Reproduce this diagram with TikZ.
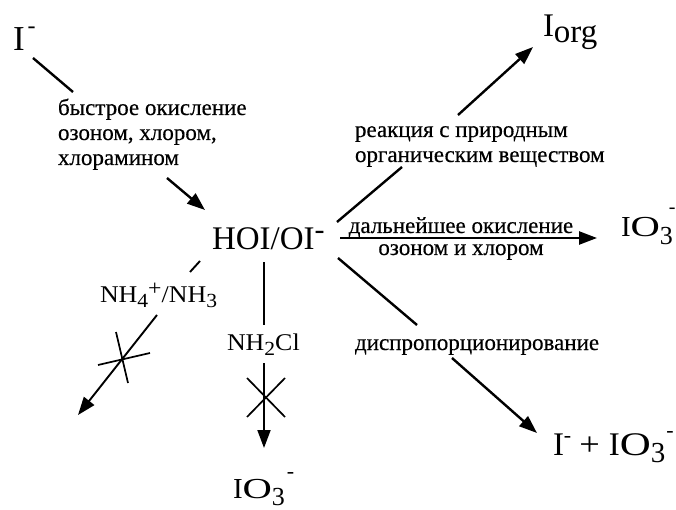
\documentclass[tikz,border=0pt]{standalone}
\usepackage{fontspec}
\setmainfont{Liberation Serif}
\newfontfamily\lblfont{Liberation Serif}[FakeBold=0.4]
\usetikzlibrary{arrows.meta}
% raised charge sign: #1 size, #2 raise
\newcommand\chmin[2]{\raisebox{#2}{\fontsize{#1}{#1}\selectfont -}}
% lowered index: #1 size, #2 drop, #3 text
\newcommand\chidx[3]{\raisebox{-#2}{\fontsize{#1}{#1}\selectfont #3}}
\newcommand\chsup[3]{\raisebox{#2}{\fontsize{#1}{#1}\selectfont #3}}
% wide letter O used in the iodate formulas
\newcommand\wideO{\scalebox{1.4}[1]{O}}
\begin{document}
\begin{tikzpicture}[x=1pt,y=-1pt,
  chem/.style={anchor=base west,inner sep=0pt,outer sep=0pt},
  lbl/.style={inner sep=0pt,outer sep=0pt},
  link/.style={line width=2.4pt},
  thin link/.style={line width=1.9pt},
  arr/.style={link,-{Triangle[length=18pt,width=13pt]}},
  thin arr/.style={thin link,-{Triangle[length=18pt,width=13pt]}},
  crossbar/.style={line width=1.7pt}]
\useasboundingbox (0,0) rectangle (676,510);

% species
\node[chem,font=\fontsize{35}{35}\selectfont] (iod) at (13,51) {I\kern3pt\chmin{24}{17.5pt}};
\node[chem,font=\fontsize{33}{33}\selectfont] (hoi) at (212,250) {HOI/OI\chmin{30}{10pt}};
\node[chem,font=\fontsize{33}{33}\selectfont] (iorg) at (543,37) {I\raisebox{-6pt}{org}};
\node[chem,font=\fontsize{29}{29}\selectfont] (io3r) at (621,237) {I\wideO\chidx{26}{7pt}{3}\kern-4pt\chmin{20}{24pt}};
\node[chem,font=\fontsize{33}{33}\selectfont] (mix) at (553,455)
  {I\chmin{22}{13pt}\kern8pt\scalebox{1.1}[1]{+}\kern9pt I\scalebox{1.3}[1]{O}\chidx{29}{7pt}{3}\kern1pt\chmin{22}{18pt}};
\node[chem,font=\fontsize{29}{29}\selectfont] (io3b) at (233,498) {I\wideO\chidx{26}{7pt}{3}\kern2pt\chmin{22}{20pt}};

% reagents
\node[chem,font=\fontsize{24}{24}\selectfont] (nh4) at (100,302)
  {\scalebox{1.08}[1]{NH\chidx{20}{5pt}{4}\chsup{22}{7pt}{+}/NH\chidx{20}{5pt}{3}}};
\node[chem,font=\fontsize{24}{24}\selectfont] (nh2cl) at (227,350)
  {\scalebox{1.08}[1]{NH\chidx{20}{5pt}{2}Cl}};

% process labels
\node[lbl,anchor=base west,font=\lblfont\fontsize{23}{25}\selectfont] (ox1) at (58,115)
  {\begin{tabular}[t]{@{}l@{}}быстрое окисление\\озоном, хлором,\\хлорамином\end{tabular}};
\node[lbl,anchor=base west,font=\lblfont\fontsize{23}{25}\selectfont] (nom) at (355,137)
  {\begin{tabular}[t]{@{}l@{}}реакция с природным\\органическим веществом\end{tabular}};
\node[lbl,anchor=base,font=\lblfont\fontsize{23}{22}\selectfont] (ox2) at (461,233)
  {\begin{tabular}[t]{@{}c@{}}дальнейшее окисление\\озоном и хлором\end{tabular}};
\node[lbl,anchor=base west,font=\lblfont\fontsize{23}{25}\selectfont] (disp) at (355,350) {диспропорционирование};

% connector end points
\coordinate (a1) at (33,58);   \coordinate (a2) at (73,92);
\coordinate (a3) at (167,178); \coordinate (a4) at (205,210);
\coordinate (b1) at (200,261); \coordinate (b2) at (190,272);
\coordinate (b3) at (157,315); \coordinate (b4) at (78,415);
\coordinate (c1) at (264,262); \coordinate (c2) at (264,325);
\coordinate (c3) at (264,363); \coordinate (c4) at (264,448);
\coordinate (d1) at (337,222); \coordinate (d2) at (402,167);
\coordinate (d3) at (458,115); \coordinate (d4) at (533,47);
\coordinate (e1) at (340,238); \coordinate (e2) at (597,238);
\coordinate (f1) at (338,258); \coordinate (f2) at (417,325);
\coordinate (f3) at (452,358); \coordinate (f4) at (537,433);

% I- -> HOI/OI-
\draw[link] (a1) -- (a2);
\draw[arr] (a3) -- (a4);
% blocked route with ammonium/ammonia
\draw[thin link] (b1) -- (b2);
\draw[thin arr] (b3) -- (b4);
\draw[crossbar] (98,365) -- (150,353);
\draw[crossbar] (116,332) -- (128,383);
% blocked route with monochloramine
\draw[line width=1.3pt] (c1) -- (c2);
\draw[thin arr] (c3) -- (c4);
\draw[crossbar] (247,378) -- (285,417);
\draw[crossbar] (247,417) -- (285,378);
% reaction with natural organic matter
\draw[link] (d1) -- (d2);
\draw[arr] (d3) -- (d4);
% further oxidation
\draw[arr] (e1) -- (e2);
% disproportionation
\draw[link] (f1) -- (f2);
\draw[arr] (f3) -- (f4);
\end{tikzpicture}
\end{document}
